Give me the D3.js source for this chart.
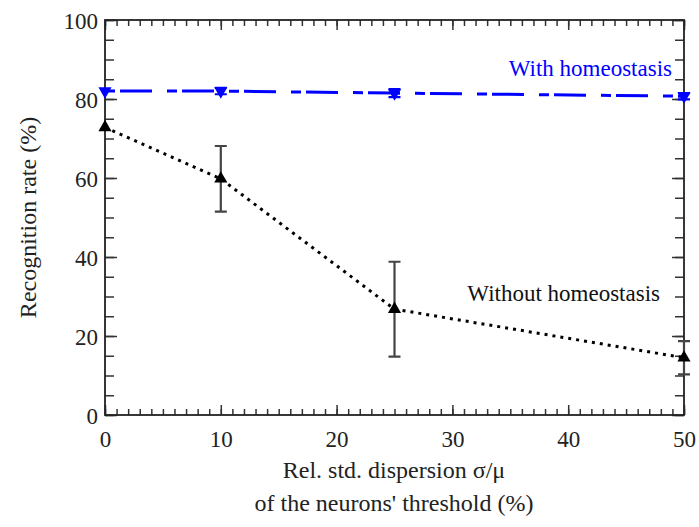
<!DOCTYPE html>
<html>
<head>
<meta charset="utf-8">
<script src="https://cdn.jsdelivr.net/npm/d3@7"></script>
</head>
<body style="margin:0">
<svg id="chart" width="699" height="527"></svg>
<script>
const DISPERSION = [0, 10, 25, 50]
const WITH_HOMEO = [82, 82, 81.5, 80.7]
const WITH_ERR = [0, 0.8, 1, 0.8]
const WITHOUT_HOMEO = [72.8, 59.8, 26.8, 14.5]
const WITHOUT_ERR = [0, 8.3, 12, 4.2]
const X_TICKS = [0, 10, 20, 30, 40, 50]
const Y_TICKS = [0, 20, 40, 60, 80, 100]

const FONT = 'Liberation Serif'
const svg = d3.select('#chart')
const plotL = 105, plotR = 684, plotT = 20, plotB = 415

const x = d3.scaleLinear().domain([0, 50]).range([plotL, plotR])
const y = d3.scaleLinear().domain([0, 100]).range([plotB, plotT])

// axes with inward ticks: minor ticks first, then the labelled major ones
function drawAxis(axis, tr, minor, major, minorLen, majorLen, labels) {
  const g1 = svg.append('g').attr('transform', tr)
    .call(axis.tickValues(minor).tickSize(minorLen).tickFormat(''))
  g1.select('.domain').remove()
  g1.selectAll('line').attr('stroke', '#333').attr('stroke-width', 1.5)
  const g2 = svg.append('g').attr('transform', tr)
    .call(axis.tickValues(major).tickSize(majorLen).tickFormat(labels ? d => d : ''))
  g2.select('.domain').remove()
  g2.selectAll('line').attr('stroke', '#333').attr('stroke-width', 1.5)
  g2.attr('font-family', FONT).attr('font-size', 23)
  g2.selectAll('text').attr('fill', '#222').style('font-family', FONT)
  return g2
}
const xMinor = d3.range(0, 51, 1), yMinor = d3.range(0, 101, 5)
const bx = drawAxis(d3.axisBottom(x), `translate(0,${plotB})`, xMinor, X_TICKS, -6, -10, true)
bx.selectAll('text').attr('y', 16)
drawAxis(d3.axisTop(x), `translate(0,${plotT})`, xMinor, X_TICKS, -6, -10, false)
const ly = drawAxis(d3.axisLeft(y), `translate(${plotL},0)`, yMinor, Y_TICKS, -9, -12, true)
ly.selectAll('text').attr('x', -7).attr('dy', '0.35em')
drawAxis(d3.axisRight(y), `translate(${plotR},0)`, yMinor, Y_TICKS, -9, -12, false)

// frame
svg.append('rect')
  .attr('x', plotL).attr('y', plotT)
  .attr('width', plotR - plotL).attr('height', plotB - plotT)
  .attr('fill', 'none').attr('stroke', '#222').attr('stroke-width', 1.8)

const label = (xx, yy, txt, size, anchor, color) => svg.append('text')
  .attr('x', xx).attr('y', yy)
  .attr('text-anchor', anchor).attr('font-size', size).attr('fill', color)
  .attr('font-family', FONT)
  .style('font-family', FONT)
  .text(txt)

// axis titles
label(0, 0, 'Recognition rate (%)', 24, 'middle', '#222')
  .attr('transform', `translate(36, ${(plotT + plotB) / 2}) rotate(-90)`)
label(394, 478, 'Rel. std. dispersion σ/μ', 24, 'middle', '#222')
label(394, 511, "of the neurons' threshold (%)", 24, 'middle', '#222')

const line = d3.line().x(d => x(d[0])).y(d => y(d[1]))

function drawSeries(vals, errs, color, dash, down) {
  const pts = DISPERSION.map((d, i) => [d, vals[i], errs[i]])
  svg.append('path').datum(pts)
    .attr('d', line)
    .attr('fill', 'none').attr('stroke', color)
    .attr('stroke-width', 3).attr('stroke-dasharray', dash)

  let ebPath = ''
  pts.filter(p => p[2] > 0).forEach(p => {
    const cx = x(p[0]), lo = y(p[1] - p[2]), hi = y(p[1] + p[2])
    ebPath += `M${cx},${lo}V${hi}M${cx - 6},${lo}h12M${cx - 6},${hi}h12`
  })
  svg.append('path').attr('d', ebPath)
    .attr('fill', 'none').attr('stroke', color === 'blue' ? 'blue' : '#444').attr('stroke-width', 2.2)

  svg.append('g').selectAll('path').data(pts).join('path')
    .attr('d', d3.symbol(d3.symbolTriangle, 75))
    .attr('transform', d => `translate(${x(d[0])},${y(d[1])})${down ? ' rotate(180)' : ''}`)
    .attr('fill', color)
}

drawSeries(WITHOUT_HOMEO, WITHOUT_ERR, '#000', '3,5', false)
drawSeries(WITH_HOMEO, WITH_ERR, 'blue', '10,5,32,15', true)

// series labels
label(672, 76, 'With homeostasis', 23, 'end', 'blue')
label(660, 301, 'Without homeostasis', 23, 'end', '#111')
</script>
</body>
</html>
